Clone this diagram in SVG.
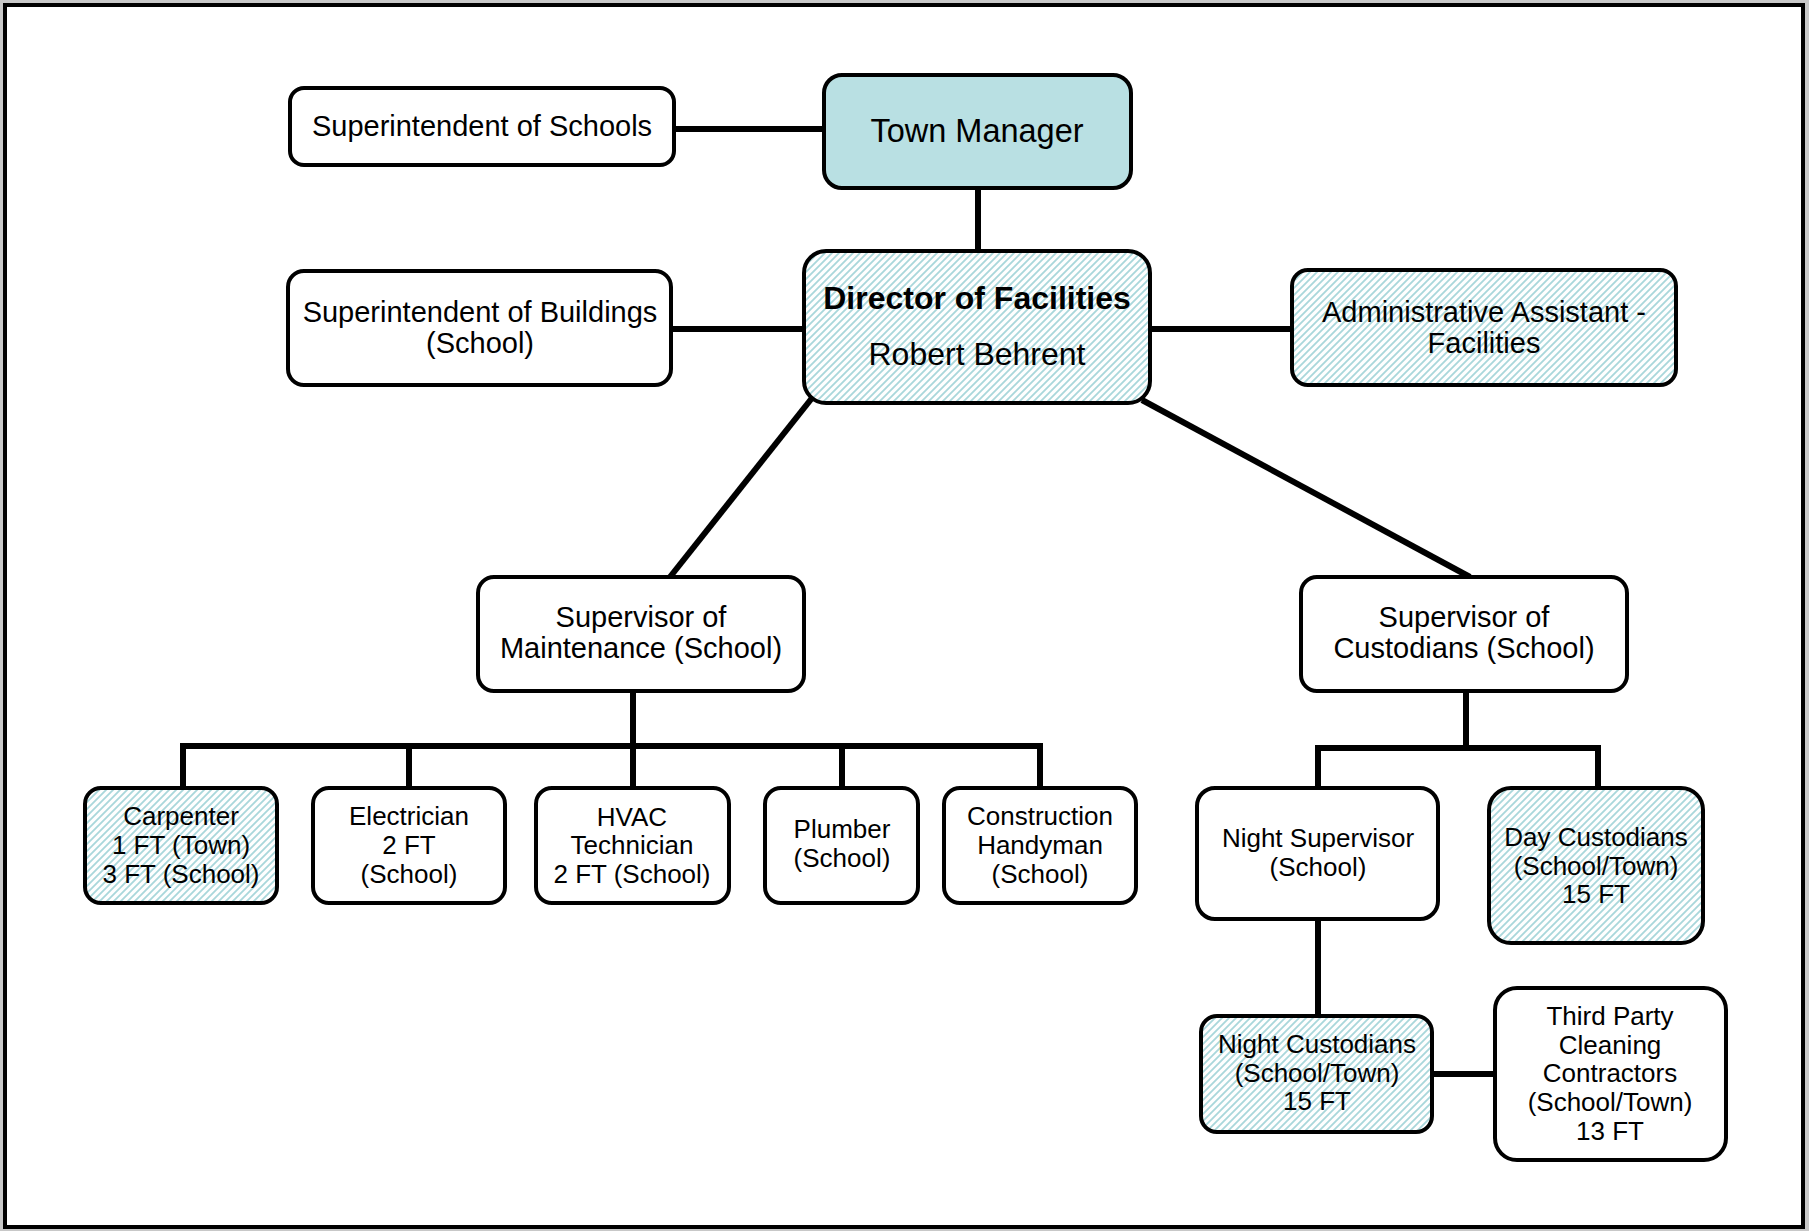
<svg xmlns="http://www.w3.org/2000/svg" width="1809" height="1231" viewBox="0 0 1809 1231">
  <defs>
    <pattern id="hatch" patternUnits="userSpaceOnUse" width="7" height="7">
      <rect width="7" height="7" fill="#ffffff"/>
      <path d="M0,7 L7,0 M-1,1 L1,-1 M6,8 L8,6" stroke="#a9d7db" stroke-width="1.8"/>
    </pattern>
    <style>
      .box { fill: #ffffff; stroke: #000000; stroke-width: 4; }
      .hatched { fill: url(#hatch); }
      .solid { fill: #b9e0e3; }
      .lbl { font-family: "Liberation Sans", Arial, sans-serif; fill: #000000; text-anchor: middle; }
      .top { font-size: 29px; }
      .big { font-size: 32px; }
      .small { font-size: 26px; }
      .bold { font-weight: bold; }
      .conn { fill: none; stroke: #000000; stroke-width: 6; stroke-linecap: butt; stroke-linejoin: miter; }
    </style>
  </defs>

  <!-- page background and frame -->
  <rect x="0" y="0" width="1809" height="1231" fill="#c8c8c8"/>
  <rect x="5" y="5" width="1798" height="1222" fill="#ffffff" stroke="#000000" stroke-width="4"/>

  <!-- connectors -->
  <g id="connectors" class="conn">
    <path d="M674,129 H824"/>
    <path d="M978,188 V251"/>
    <path d="M671,329 H804"/>
    <path d="M1150,329 H1292"/>
    <path d="M812,398 L670,577"/>
    <path d="M1142,400 L1470,577"/>
    <path d="M633,691 V788"/>
    <path d="M183,788 V746 H1040 V788"/>
    <path d="M409,746 V788"/>
    <path d="M842,746 V788"/>
    <path d="M1466,691 V748"/>
    <path d="M1318,788 V748 H1598 V788"/>
    <path d="M1318,919 V1016"/>
    <path d="M1432,1074 H1495"/>
  </g>

  <g id="superintendent-schools">
    <rect class="box" x="290" y="88" width="384" height="77" rx="14"/>
    <text class="lbl top" x="482" y="136">Superintendent of Schools</text>
  </g>

  <g id="town-manager">
    <rect class="box solid" x="824" y="75" width="307" height="113" rx="18"/>
    <text class="lbl" style="font-size:32.5px" x="977" y="142">Town Manager</text>
  </g>

  <g id="superintendent-buildings">
    <rect class="box" x="288" y="271" width="383" height="114" rx="16"/>
    <text class="lbl top" x="480" y="322">Superintendent of Buildings</text>
    <text class="lbl top" x="480" y="353">(School)</text>
  </g>

  <g id="director">
    <rect class="box hatched" x="804" y="251" width="346" height="152" rx="22"/>
    <text class="lbl big bold" x="977" y="309">Director of Facilities</text>
    <text class="lbl big" x="977" y="365">Robert Behrent</text>
  </g>

  <g id="admin-assistant">
    <rect class="box hatched" x="1292" y="270" width="384" height="115" rx="16"/>
    <text class="lbl top" x="1484" y="322">Administrative Assistant -</text>
    <text class="lbl top" x="1484" y="353">Facilities</text>
  </g>

  <g id="supervisor-maintenance">
    <rect class="box" x="478" y="577" width="326" height="114" rx="16"/>
    <text class="lbl top" x="641" y="627">Supervisor of</text>
    <text class="lbl top" x="641" y="658">Maintenance (School)</text>
  </g>

  <g id="supervisor-custodians">
    <rect class="box" x="1301" y="577" width="326" height="114" rx="16"/>
    <text class="lbl top" x="1464" y="627">Supervisor of</text>
    <text class="lbl top" x="1464" y="658">Custodians (School)</text>
  </g>

  <g id="carpenter">
    <rect class="box hatched" x="85" y="788" width="192" height="115" rx="16"/>
    <text class="lbl small" x="181" y="825">Carpenter</text>
    <text class="lbl small" x="181" y="854">1 FT (Town)</text>
    <text class="lbl small" x="181" y="883">3 FT (School)</text>
  </g>

  <g id="electrician">
    <rect class="box" x="313" y="788" width="192" height="115" rx="16"/>
    <text class="lbl small" x="409" y="825">Electrician</text>
    <text class="lbl small" x="409" y="854">2 FT</text>
    <text class="lbl small" x="409" y="883">(School)</text>
  </g>

  <g id="hvac">
    <rect class="box" x="536" y="788" width="193" height="115" rx="16"/>
    <text class="lbl small" x="632" y="826">HVAC</text>
    <text class="lbl small" x="632" y="854">Technician</text>
    <text class="lbl small" x="632" y="883">2 FT (School)</text>
  </g>

  <g id="plumber">
    <rect class="box" x="765" y="788" width="153" height="115" rx="16"/>
    <text class="lbl small" x="842" y="838">Plumber</text>
    <text class="lbl small" x="842" y="867">(School)</text>
  </g>

  <g id="construction-handyman">
    <rect class="box" x="944" y="788" width="192" height="115" rx="16"/>
    <text class="lbl small" x="1040" y="825">Construction</text>
    <text class="lbl small" x="1040" y="854">Handyman</text>
    <text class="lbl small" x="1040" y="883">(School)</text>
  </g>

  <g id="night-supervisor">
    <rect class="box" x="1197" y="788" width="241" height="131" rx="18"/>
    <text class="lbl small" x="1318" y="847">Night Supervisor</text>
    <text class="lbl small" x="1318" y="876">(School)</text>
  </g>

  <g id="day-custodians">
    <rect class="box hatched" x="1489" y="788" width="214" height="155" rx="22"/>
    <text class="lbl small" x="1596" y="846">Day Custodians</text>
    <text class="lbl small" x="1596" y="875">(School/Town)</text>
    <text class="lbl small" x="1596" y="903">15 FT</text>
  </g>

  <g id="night-custodians">
    <rect class="box hatched" x="1201" y="1016" width="231" height="116" rx="16"/>
    <text class="lbl small" x="1317" y="1053">Night Custodians</text>
    <text class="lbl small" x="1317" y="1082">(School/Town)</text>
    <text class="lbl small" x="1317" y="1110">15 FT</text>
  </g>

  <g id="third-party-contractors">
    <rect class="box" x="1495" y="988" width="231" height="172" rx="22"/>
    <text class="lbl small" x="1610" y="1025">Third Party</text>
    <text class="lbl small" x="1610" y="1054">Cleaning</text>
    <text class="lbl small" x="1610" y="1082">Contractors</text>
    <text class="lbl small" x="1610" y="1111">(School/Town)</text>
    <text class="lbl small" x="1610" y="1140">13 FT</text>
  </g>
</svg>
